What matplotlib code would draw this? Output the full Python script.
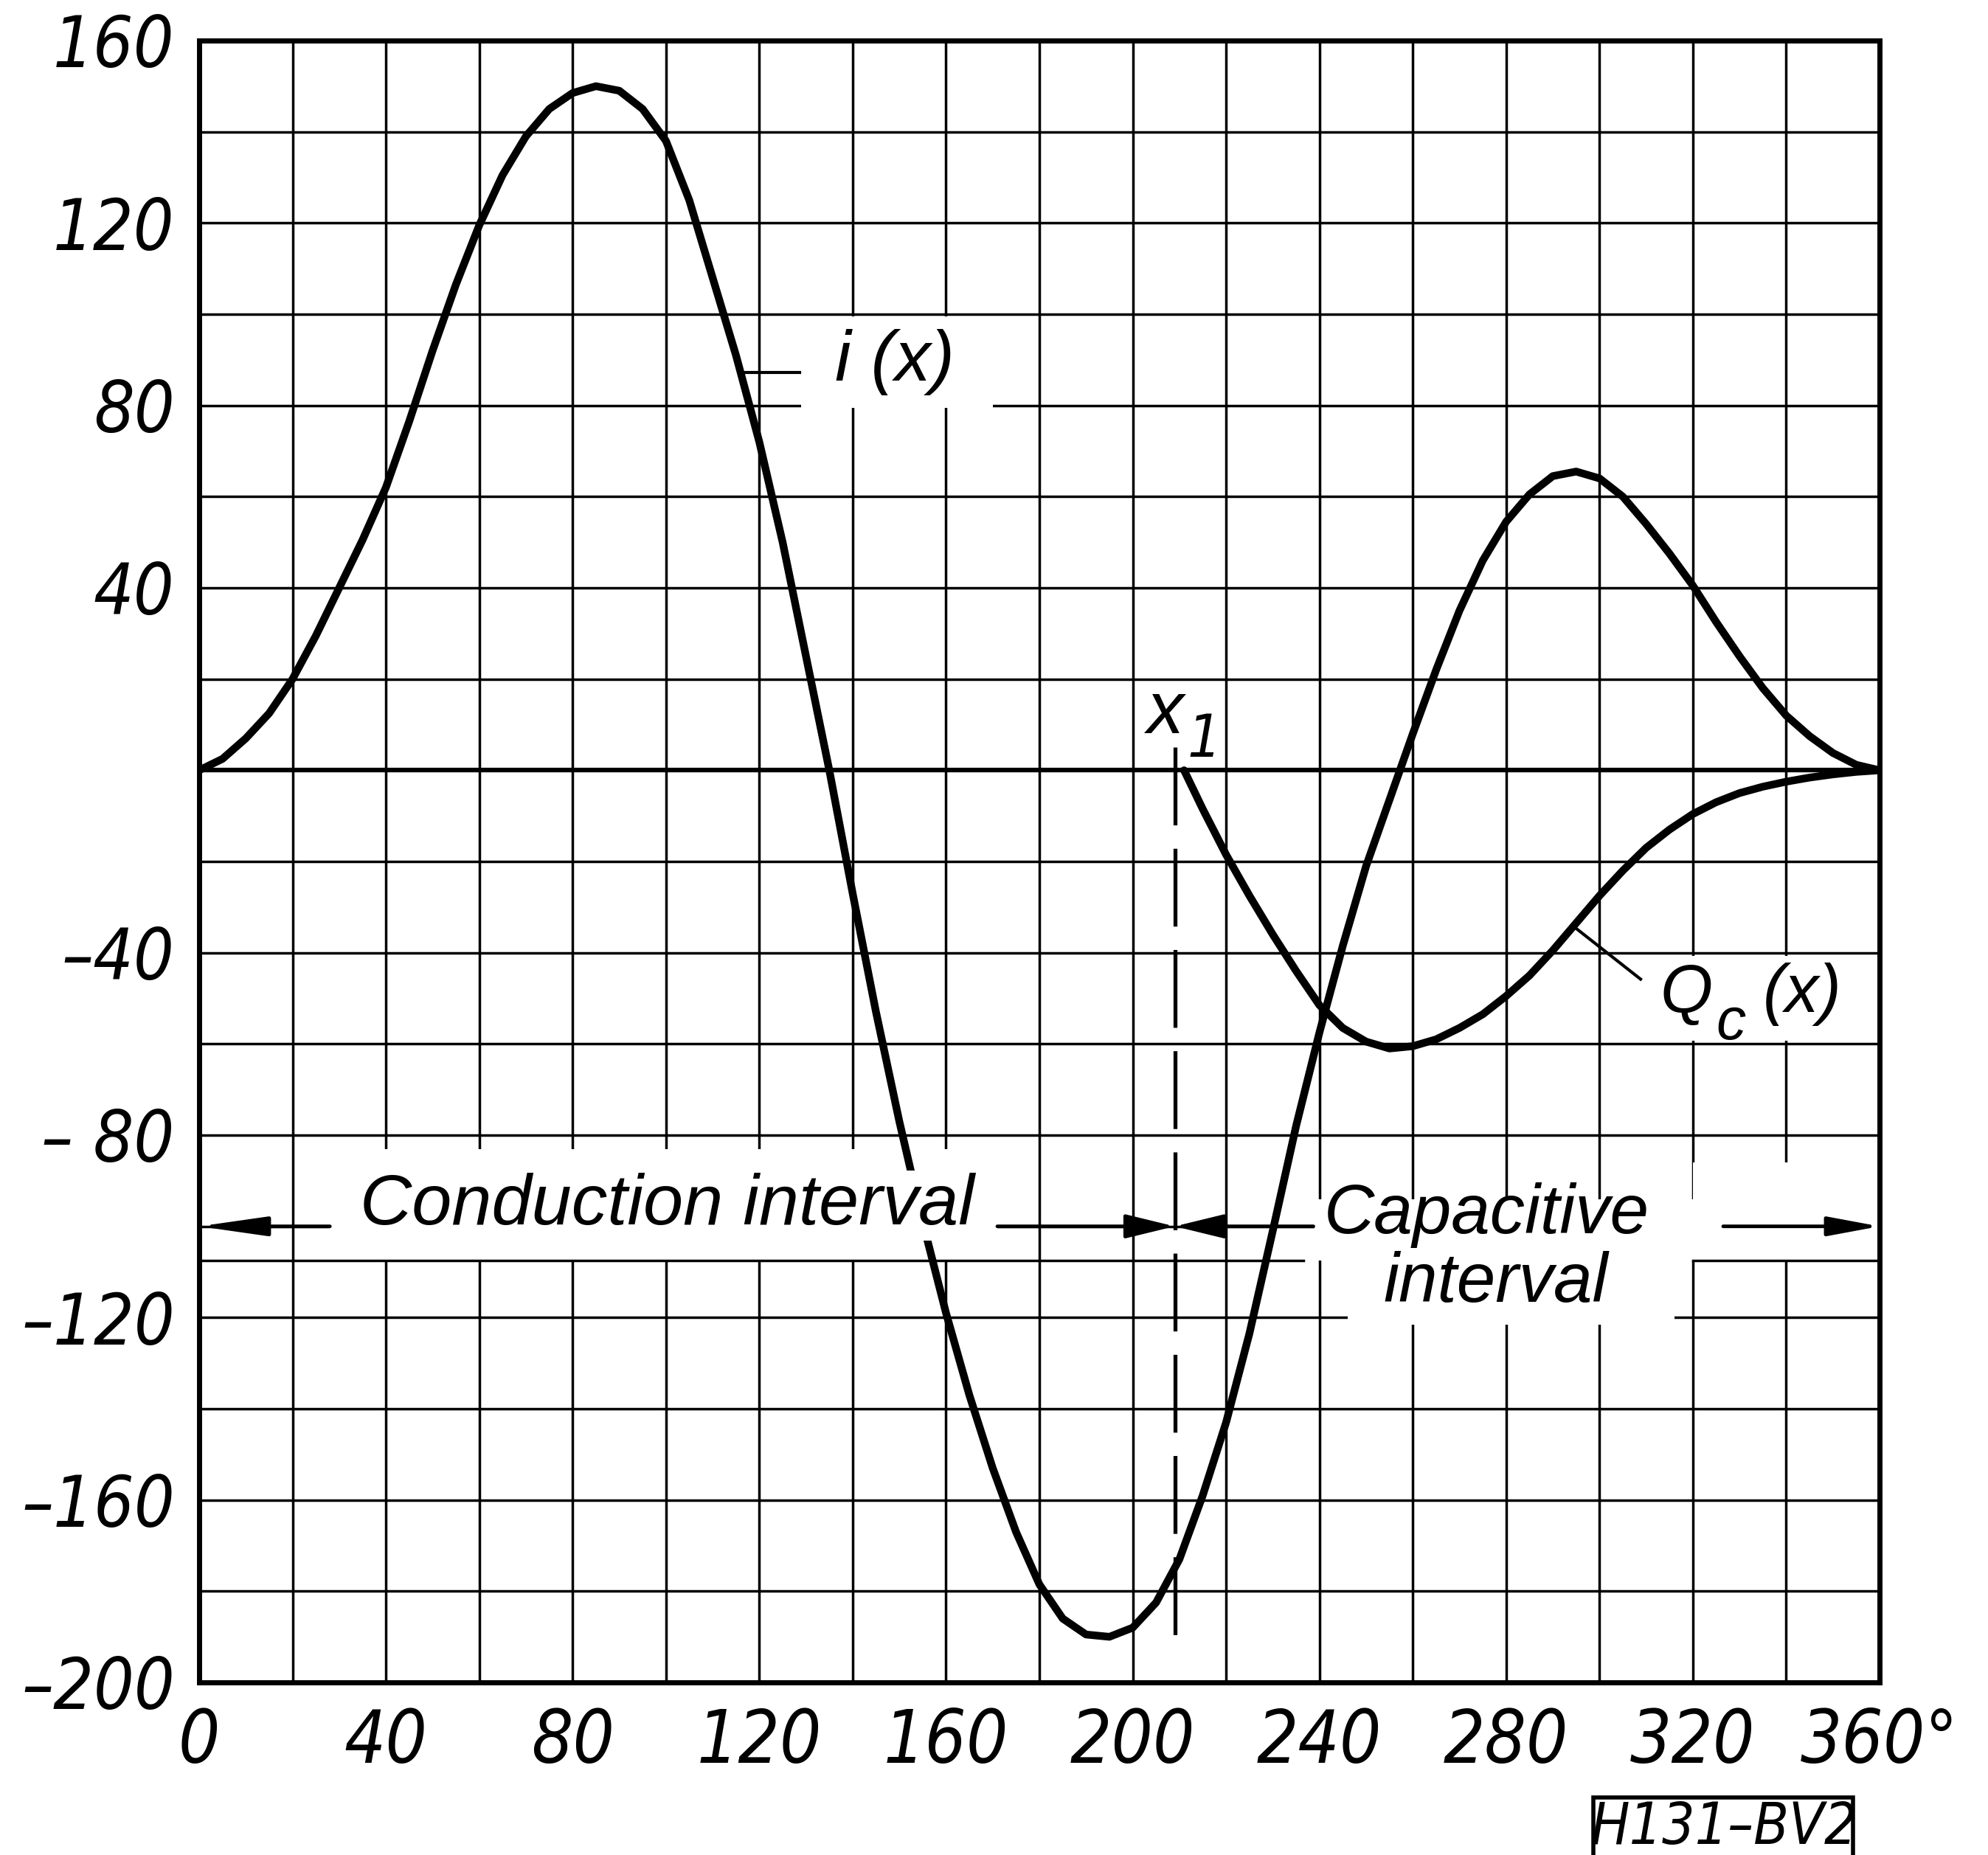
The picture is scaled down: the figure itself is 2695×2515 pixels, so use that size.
import os
import numpy as np
import matplotlib
matplotlib.use("Agg")
import matplotlib.pyplot as plt
from matplotlib.patches import Rectangle
from matplotlib import font_manager as fm

# ---------------- data ----------------
angle_i = [0, 5, 10, 15, 20, 25, 30, 35, 40, 45, 50, 55, 60, 65, 70, 75, 80, 85, 90, 95,
           100, 105, 110, 115, 120, 125, 130, 135, 140, 145, 150, 155, 160, 165, 170, 175,
           180, 185, 190, 195, 200, 205, 210, 215, 220, 225, 230, 235, 240, 245, 250, 255,
           260, 265, 270, 275, 280, 285, 290, 295, 300, 305, 310, 315, 320, 325, 330, 335,
           340, 345, 350, 355, 360]
current_i = [0, 2.5, 7, 12.5, 20, 29.5, 40, 50.5, 62, 76.5, 92, 106.5, 119.5, 130.5, 139, 145, 148.5, 150, 149, 145,
             138, 125, 108, 91, 72, 50, 25, 0, -27, -53, -77, -99, -119, -137, -153, -167,
             -178.5, -186, -189.5, -190, -188, -182.5, -173, -159, -143, -123.5, -101, -78, -57.5, -38.5, -21, -6.5,
             8, 22, 35, 46, 54.5, 60.5, 64.5, 65.5, 64, 60, 54, 47.5, 40.5, 32.5, 25, 18,
             12, 7.5, 3.8, 1.2, 0]

angle_q = [211, 215, 220, 225, 230, 235, 240, 245, 250, 255, 260, 265, 270, 275, 280, 285,
           290, 295, 300, 305, 310, 315, 320, 325, 330, 335, 340, 345, 350, 355, 360]
charge_q = [0, -8.5, -18.5, -27.5, -36, -44, -51.5, -56.5, -59.5, -61, -60.5, -59, -56.5, -53.5, -49.5, -45,
            -39.5, -33.5, -27.5, -22, -17, -13, -9.6, -7, -5, -3.6, -2.5, -1.6, -0.9, -0.35, 0]

x_ticks = [0, 40, 80, 120, 160, 200, 240, 280, 320, 360]
x_labels = ["0", "40", "80", "120", "160", "200", "240", "280", "320", "360°"]
y_ticks = [160, 120, 80, 40, -40, -80, -120, -160, -200]
y_labels = ["160", "120", "80", "40", "–40", "– 80", "–120", "–160", "–200"]

x1 = 209            # end of conduction interval
interval_level = -100
strip_edge = -107.5

assert len(angle_i) == len(current_i)
assert len(angle_q) == len(charge_q)


# ---------------- fonts: look for a narrow italic face ----------------
def find_narrow_italic():
    prefs = ["liberationsansnarrow-italic", "dejavusanscondensed-oblique",
             "notosans-condenseditalic", "robotocondensed-italic",
             "opensans_condensed-italic", "opensans-condenseditalic"]
    files = [f.fname for f in fm.fontManager.ttflist]
    low = {os.path.basename(p).lower().replace(" ", ""): p for p in files}
    for pref in prefs:
        for k, p in low.items():
            if k.startswith(pref):
                return p
    bad = ("bold", "light", "thin", "black", "medium", "semi", "extra", "ultra")
    for f in fm.fontManager.ttflist:
        k = os.path.basename(f.fname).lower()
        if (("condensed" in k or "narrow" in k) and ("italic" in k or "oblique" in k)
                and not any(b in k for b in bad)):
            return f.fname
    return None


narrow_path = find_narrow_italic()
sans = ["Liberation Sans", "DejaVu Sans"]


def tick_fp(size_narrow, size_plain):
    if narrow_path:
        return fm.FontProperties(fname=narrow_path, size=size_narrow)
    return fm.FontProperties(family=sans, style="italic", size=size_plain)


# ---------------- figure ----------------
W, H = 2695, 2515
fig = plt.figure(figsize=(W / 100, H / 100), dpi=100)
fig.patch.set_facecolor("white")
ax = fig.add_axes([270 / W, (H - 2281) / H, 2278 / W, 2226 / H])
ax.set_xlim(0, 360)
ax.set_ylim(-200, 160)

ax.set_xticks(x_ticks, x_labels)
ax.set_yticks(y_ticks, y_labels)
for lbl in ax.get_xticklabels():
    lbl.set_fontproperties(tick_fp(71, 64))
for lbl in ax.get_yticklabels():
    lbl.set_fontproperties(tick_fp(69, 62))
ax.set_xticks(np.arange(0, 361, 20), minor=True)
ax.set_yticks(np.arange(-200, 161, 20), minor=True)
ax.tick_params(axis="x", which="both", length=0, pad=24)
ax.tick_params(axis="y", which="both", length=0, pad=24)
ax.set_axisbelow(True)
ax.grid(which="both", color="black", lw=2.5)
for s in ax.spines.values():
    s.set_linewidth(5)
    s.set_zorder(5)

# pasted label strips hide the grid
white = dict(fc="white", ec="none", zorder=1)
ax.add_patch(Rectangle((28, strip_edge), 171 - 28, 24.5, **white))
ax.add_patch(Rectangle((239, strip_edge), 320 - 239, 13.5, **white))
ax.add_patch(Rectangle((246, -121.5), 316 - 246, 14.0, **white))
ax.add_patch(Rectangle((320, strip_edge), 39.5, 21.5, **white))
ax.add_patch(Rectangle((129, 79.5), 41, 20, **white))
ax.add_patch(Rectangle((311, -59.3), 47, 18.6, **white))
ax.plot([0, 236.6], [strip_edge, strip_edge], color="black", lw=2.5, zorder=1.3)
ax.plot([320, 360], [strip_edge, strip_edge], color="black", lw=2.5, zorder=1.3)

# zero axis
ax.axhline(0, color="black", lw=4.5, zorder=1.6)

# curves
ax.plot(angle_i, current_i, color="black", lw=7.5, solid_joinstyle="round",
        solid_capstyle="round", zorder=3)
ax.plot(angle_q, charge_q, color="black", lw=7.5, solid_joinstyle="round",
        solid_capstyle="round", zorder=3)

# x1 marker
ax.plot([x1, x1], [5, -190], color="black", lw=3.8, ls=(0, (20, 6)), zorder=2.5)
ax.text(203, 8.2, "x", fontfamily=sans, fontstyle="italic", fontsize=72,
        ha="left", va="baseline", zorder=4)
ax.text(211.7, 3.0, "1", fontproperties=tick_fp(58, 54),
        ha="left", va="baseline", zorder=4)


# interval arrows
def arrow(tip, tail, hl, hw):
    ax.annotate("", xy=(tip, interval_level), xytext=(tail, interval_level),
                arrowprops=dict(arrowstyle=f"-|>,head_length={hl},head_width={hw}",
                                mutation_scale=1, lw=3.5, color="black",
                                shrinkA=0, shrinkB=0),
                zorder=4)


arrow(0, 28, 56, 8)
arrow(x1, 171, 41, 10)
arrow(x1, 238.7, 41, 10)
arrow(360, 326.5, 43, 8)

# labels
ax.text(100.2, -99.5, "Conduction interval", fontfamily=sans, fontstyle="italic",
        fontsize=70, ha="center", va="baseline", zorder=4,
        bbox=dict(fc="white", ec="none", pad=2))
ax.text(275.8, -101.5, "Capacitive", fontfamily=sans, fontstyle="italic",
        fontsize=68, ha="center", va="baseline", zorder=4)
ax.text(277.7, -116.5, "interval", fontfamily=sans, fontstyle="italic",
        fontsize=68, ha="center", va="baseline", zorder=4)

ax.plot([116.3, 128.6], [87.2, 87.2], color="black", lw=3, zorder=3)
ax.text(136.3, 85.5, "i (x)", fontfamily=sans, fontstyle="italic", fontsize=70,
        ha="left", va="baseline", zorder=4)

ax.plot([294.4, 308.8], [-34.2, -45.8], color="black", lw=3, zorder=3)
ax.text(313, -53, "Q", fontfamily=sans, fontstyle="italic", fontsize=66,
        ha="left", va="baseline", zorder=4)
ax.text(325, -59, "c", fontfamily=sans, fontstyle="italic", fontsize=58,
        ha="left", va="baseline", zorder=4)
ax.text(335, -53, "(x)", fontfamily=sans, fontstyle="italic", fontsize=66,
        ha="left", va="baseline", zorder=4)

# drawing number box
fig.patches.append(Rectangle((2160 / W, -0.02), 352 / W, (H - 2437) / H + 0.02,
                             transform=fig.transFigure, fc="none", ec="black", lw=4))
fig.text(2337 / W, 1 - 2478 / H, "H131–BV2", fontproperties=tick_fp(56, 47),
         ha="center", va="center")

fig.savefig("out.png", dpi=100, facecolor="white")
